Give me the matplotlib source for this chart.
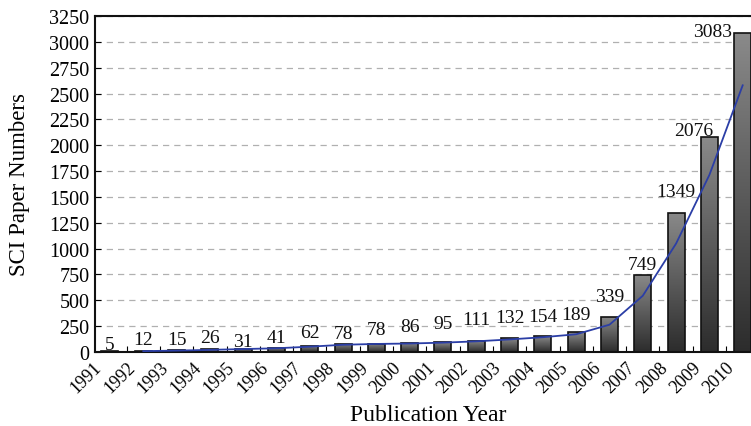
import numpy as np
import matplotlib
matplotlib.use("Agg")
import matplotlib.pyplot as plt
import matplotlib.transforms as mtransforms

years = [str(y) for y in range(1991, 2011)]
papers = [5, 12, 15, 26, 31, 41, 62, 78, 78, 86, 95, 111, 132, 154, 189, 339, 749, 1349, 2076, 3083]
# 2-period moving average trend line (1992-2010)
trend_years = years[1:]
trend = [8.5, 13.5, 20.5, 28.5, 36, 51.5, 70, 78, 82, 90.5, 103, 121.5, 143, 171.5, 264, 544, 1049, 1712.5, 2579.5]
yticks = list(range(0, 3251, 250))

# label placement offsets (pixels)
lab_dy = [2.5, 7, 6.5, 7, 3, 6, 8.5, 6, 10, 12, 14, 16.5, 16, 15, 13.5, 16, 6, 17, 2, -3]
lab_dx = [0] * 18 + [-16, -30]

plt.rcParams['font.family'] = ['Liberation Serif', 'DejaVu Serif']

fig = plt.figure(figsize=(7.51, 4.27), dpi=100)
ax = fig.add_axes([95 / 751, 74 / 427, 666 / 751, 336 / 427])

x = np.arange(len(years))
bars = ax.bar(x, papers, width=0.51, color='none', edgecolor='#111111', linewidth=1.2, zorder=3)

grad = np.linspace(0, 1, 256).reshape(-1, 1)
cmap = matplotlib.colors.LinearSegmentedColormap.from_list('g', ['#2c2c2c', '#8a8a8a'])
for b in bars:
    x0, y0 = b.get_x(), b.get_y()
    w, h = b.get_width(), b.get_height()
    im = ax.imshow(grad, cmap=cmap, aspect='auto', origin='lower',
                   extent=[x0, x0 + w, y0, y0 + h], zorder=2.5, interpolation='bilinear')
    im.set_clip_path(b)

tx = [years.index(t) for t in trend_years]
ax.plot(tx, trend, color='#2b3ea6', linewidth=1.3, zorder=4)

for i, v in enumerate(papers):
    ax.annotate(str(v), (x[i], v), xytext=(lab_dx[i], lab_dy[i]), textcoords='offset pixels',
                ha='center', va='baseline', fontsize=14, color='#111111', zorder=5)

ax.set_xlim(-0.45, 19.55)
ax.set_ylim(0, 3250)
ax.set_yticks(yticks)
ax.set_yticklabels([str(t) for t in yticks], fontsize=14.5)
ax.set_xticks(x)
ax.set_xticklabels(years, rotation=45, ha='right', va='center', rotation_mode='anchor', fontsize=13)
ax.set_xticks(x[:-1] + 0.5, minor=True)
ax.tick_params(axis='x', which='major', length=0, pad=9)
ax.tick_params(axis='x', which='minor', direction='in', length=4, width=0.8)
ax.tick_params(axis='y', direction='in', length=4, width=0.8, pad=4)
offset = mtransforms.ScaledTranslation(-11 / 100, 0, fig.dpi_scale_trans)
for lab in ax.get_xticklabels():
    lab.set_transform(lab.get_transform() + offset)

ax.yaxis.grid(True, color='#b0b0b0', linestyle=(0, (5, 4)), linewidth=0.9)
ax.set_axisbelow(True)
for s in ['left', 'bottom', 'top']:
    ax.spines[s].set_linewidth(1.5)
    ax.spines[s].set_color('#111111')
ax.spines['right'].set_visible(False)

ax.set_xlabel('Publication Year', fontsize=17, labelpad=6)
ax.set_ylabel('SCI Paper Numbers', fontsize=16.5, labelpad=14)

fig.savefig('out.png', dpi=100)
